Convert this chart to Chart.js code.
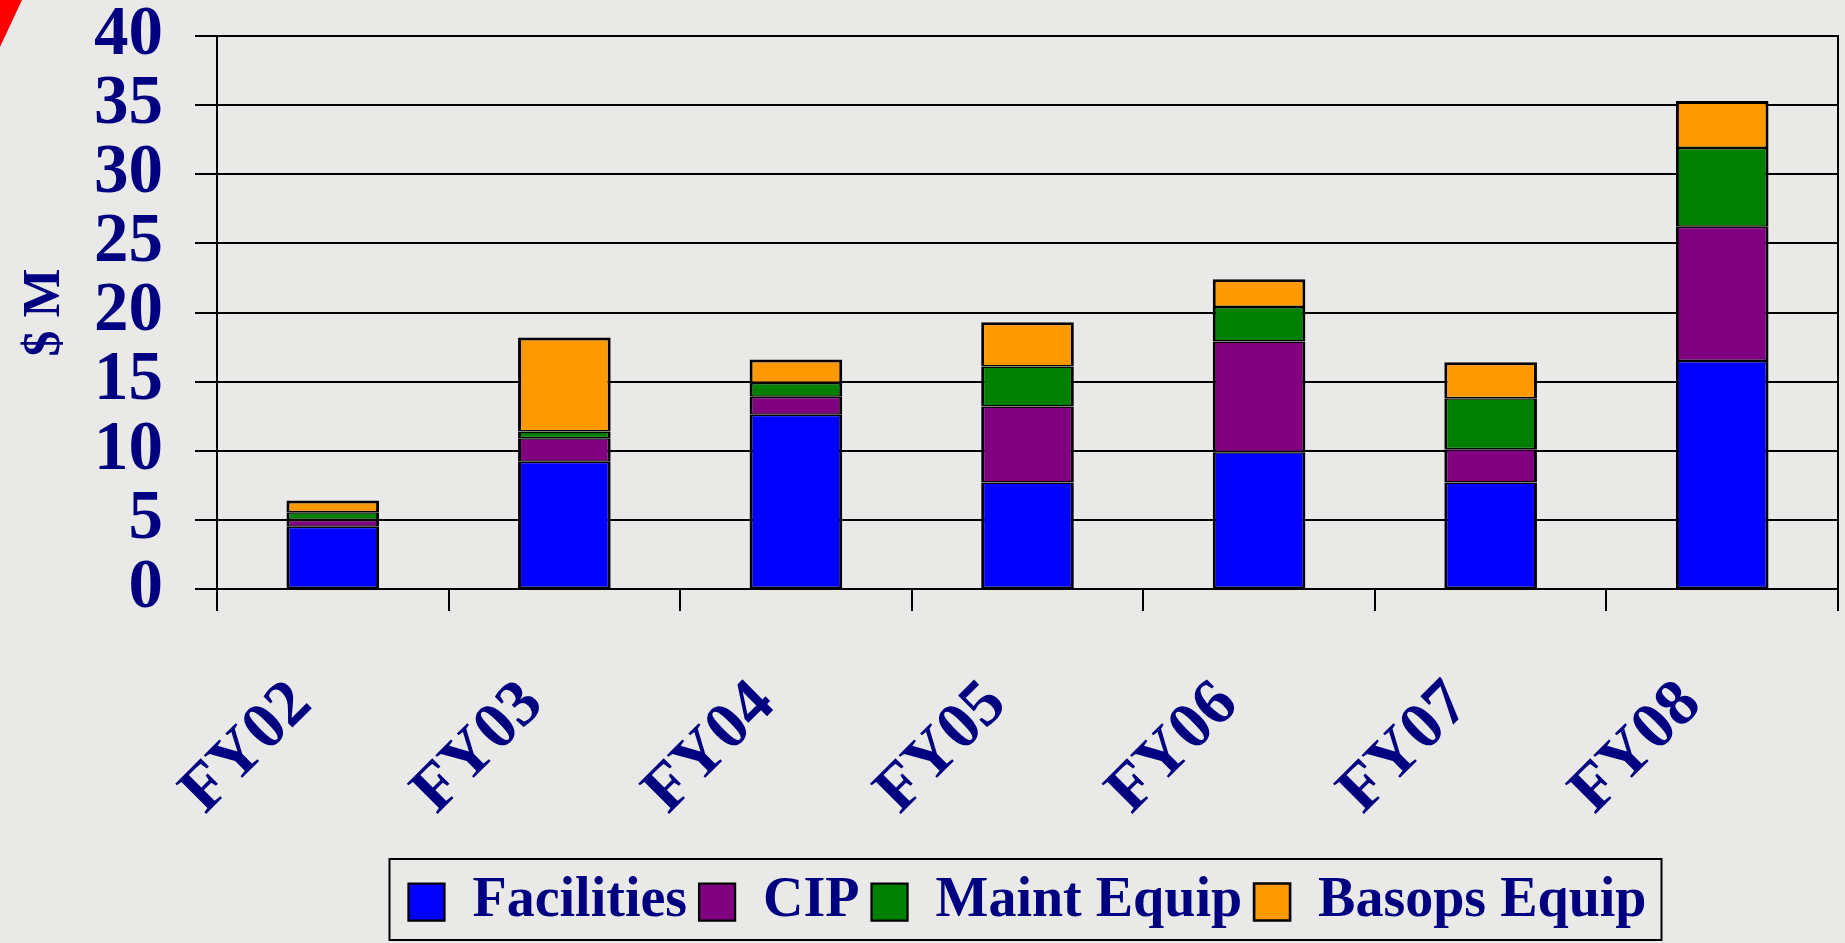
<!DOCTYPE html>
<html>
<head>
<meta charset="utf-8">
<title>$ M</title>
<script src="https://cdn.jsdelivr.net/npm/chart.js@4.4.1/dist/chart.umd.min.js"></script>
<style>
  html, body { margin: 0; padding: 0; background: #e9e9e7; overflow: hidden; }
  #wrap { position: relative; width: 1845px; height: 943px; }
  #corner { position: absolute; left: 0; top: 0; width: 22px; height: 47px; background: #ff0000;
            clip-path: polygon(0 0, 100% 0, 0 100%); }
</style>
</head>
<body>
<div id="wrap">
  <canvas id="grafico"></canvas>
  <div id="corner"></div>
</div>
<script>
// dados ($ M)
const categorias = ['FY02', 'FY03', 'FY04', 'FY05', 'FY06', 'FY07', 'FY08'];
const facilities = [4.5, 9.2, 12.6, 7.7, 9.9, 7.7, 16.5];
const cip = [0.5, 1.7, 1.3, 5.5, 8.0, 2.4, 9.7];
const maintEquip = [0.55, 0.5, 1.0, 2.9, 2.5, 3.7, 5.7];
const basopsEquip = [0.85, 6.8, 1.7, 3.2, 2.0, 2.6, 3.4];

const yMin = 0;
const yMax = 40;
const yStep = 5;

const azul = '#000080';
const fonte = "'Liberation Serif', 'Times New Roman', serif";

// borda preta em volta da legenda
const bordaLegenda = {
    id: 'bordaLegenda',
    afterDraw(chart) {
        const hb = chart.legend.legendHitBoxes;
        if (!hb || !hb.length) return;
        const first = hb[0];
        const last = hb[hb.length - 1];
        const cy = first.top + first.height / 2;
        const ctx = chart.ctx;
        ctx.save();
        ctx.strokeStyle = '#000';
        ctx.lineWidth = 2;
        ctx.strokeRect(first.left - 19, cy - 43, (last.left + last.width) - first.left + 34, 81);
        ctx.restore();
    }
};

// topo da pilha com borda cheia, divisões internas mais finas
function serie(label, data, cor, topo) {
    return {
        label,
        data,
        backgroundColor: cor,
        borderColor: '#000',
        borderWidth: { top: topo ? 3 : 1.5, bottom: 1.5, left: 3, right: 3 },
        borderSkipped: false,
        barPercentage: 0.4,
        categoryPercentage: 1
    };
}

window.onload = () => {
    const ctx = document.getElementById('grafico').getContext('2d');

    new Chart(ctx, {
        type: 'bar',
        data: {
            labels: categorias,
            datasets: [
                serie('Facilities', facilities, '#0000ff'),
                serie('CIP', cip, '#800080'),
                serie('Maint Equip', maintEquip, '#008000'),
                serie('Basops Equip', basopsEquip, '#ff9900', true)
            ]
        },
        options: {
            responsive: true,
            maintainAspectRatio: false,
            animation: false,
            layout: { padding: { top: 36, right: 7, bottom: 3, left: 0 } },
            plugins: {
                tooltip: { enabled: false },
                legend: {
                    position: 'bottom',
                    fullSize: false,
                    labels: {
                        color: azul,
                        font: { family: fonte, size: 56, weight: 'bold' },
                        boxWidth: 36,
                        boxHeight: 37,
                        padding: 12
                    }
                }
            },
            scales: {
                x: {
                    stacked: true,
                    afterFit: (scale) => { scale.height = 273; },
                    grid: { drawOnChartArea: false, drawTicks: true, tickLength: 22, color: '#000', lineWidth: 2 },
                    border: { color: '#000', width: 2 },
                    ticks: {
                        color: azul,
                        font: { family: fonte, size: 66, weight: 'bold', lineHeight: 1.2 },
                        minRotation: 45,
                        maxRotation: 45,
                        labelOffset: -31,
                        padding: 55
                    }
                },
                y: {
                    stacked: true,
                    min: yMin,
                    max: yMax,
                    afterFit: (scale) => { scale.width = 217; },
                    grid: { color: '#000', lineWidth: 2, tickLength: 22 },
                    border: { color: '#000', width: 2 },
                    ticks: {
                        stepSize: yStep,
                        autoSkip: false,
                        color: azul,
                        padding: 32,
                        font: { family: fonte, size: 69, weight: 'bold', lineHeight: 0.1 }
                    },
                    title: {
                        display: true,
                        text: '$ M',
                        color: azul,
                        font: { family: fonte, size: 52, weight: 'bold', lineHeight: 1.2 },
                        padding: { top: 14, bottom: 10 }
                    }
                },
                direita: {
                    position: 'right',
                    min: yMin,
                    max: yMax,
                    grid: { drawOnChartArea: false, drawTicks: false },
                    border: { color: '#000', width: 2 },
                    ticks: { display: false }
                }
            }
        },
        plugins: [bordaLegenda]
    });
};
</script>
</body>
</html>
